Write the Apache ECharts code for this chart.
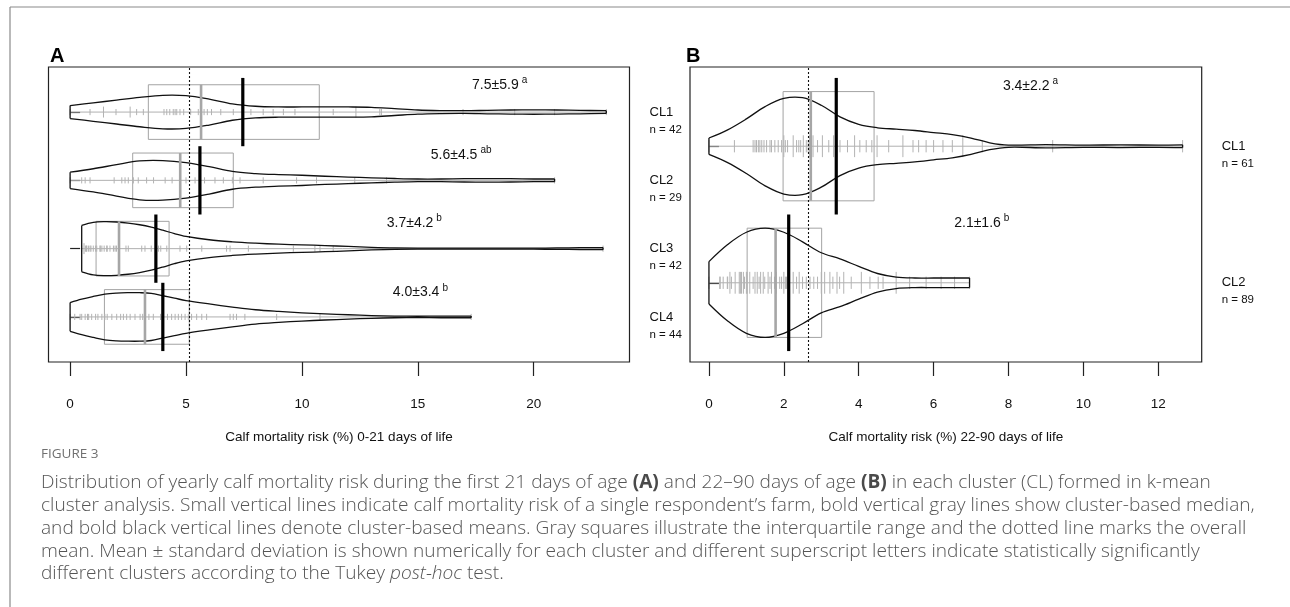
<!DOCTYPE html>
<html>
<head>
<meta charset="utf-8">
<script src="https://cdn.jsdelivr.net/npm/echarts@6/dist/echarts.min.js"></script>
<style>
html, body { margin: 0; padding: 0; background: #fff; }
#chart { width: 1290px; height: 607px; }
</style>
</head>
<body>
<div id="chart"></div>
<script>
// ---- panel A: 0-21 days of life ----
var aClusters = ['CL1', 'CL2', 'CL3', 'CL4'];
var aN = [42, 29, 42, 44];
var aRows = [4, 3, 2, 1];
var aQ1 = [3.375, 2.7, 1.12, 1.48];
var aMedian = [5.65, 4.75, 2.11, 3.23];
var aQ3 = [10.75, 7.04, 4.27, 5.14];
var aMean = [7.45, 5.6, 3.7, 4.0];
var aOverallMean = 5.13;
var aMeanText = ['7.5\u00b15.9', '5.6\u00b14.5', '3.7\u00b14.2', '4.0\u00b13.4'];
var aSup = ['a', 'ab', 'b', 'b'];
var aTicks = [0, 5, 10, 15, 20];

// bean outline: [risk, half width]
var aViolin1 = [[0, 0.095], [1, 0.135], [2, 0.175], [3, 0.215], [4, 0.245], [5, 0.24], [6, 0.19], [7, 0.12], [8, 0.085],
  [9, 0.075], [10, 0.075], [11, 0.075], [12, 0.075], [13, 0.07], [14, 0.05], [15, 0.03], [16, 0.022], [17, 0.02],
  [18, 0.025], [19, 0.03], [20, 0.032], [21, 0.03], [22, 0.025], [23.13, 0.02]];
var aViolin2 = [[0, 0.12], [1, 0.17], [2, 0.23], [3, 0.285], [4, 0.29], [5, 0.26], [6, 0.2], [7, 0.13], [8, 0.1],
  [9, 0.085], [10, 0.075], [11, 0.06], [12, 0.048], [13, 0.037], [14, 0.027], [15, 0.02], [16, 0.02], [17, 0.024],
  [18, 0.025], [19, 0.024], [20, 0.02], [20.9, 0.02]];
var aViolin3 = [[0.5, 0.34], [1, 0.385], [1.5, 0.395], [2, 0.39], [2.5, 0.375], [3, 0.35], [3.5, 0.315], [4, 0.27],
  [4.5, 0.22], [5, 0.18], [6, 0.13], [7, 0.1], [8, 0.08], [9, 0.065], [10, 0.055], [11, 0.045], [12, 0.032],
  [13, 0.018], [14, 0.01], [16, 0.008], [18, 0.008], [20, 0.008], [21, 0.01], [22, 0.014], [22.99, 0.015]];
var aViolin4 = [[0, 0.21], [0.5, 0.26], [1, 0.3], [1.5, 0.335], [2, 0.35], [2.5, 0.355], [3, 0.355], [3.5, 0.345],
  [4, 0.31], [4.5, 0.275], [5, 0.24], [6, 0.19], [7, 0.145], [8, 0.105], [9, 0.08], [10, 0.06], [11, 0.045],
  [12, 0.032], [13, 0.02], [14, 0.012], [15, 0.01], [16, 0.012], [17.3, 0.012]];

// single farms
var aFarms1 = [0, 0.86, 1.44, 1.44, 1.98, 2.59, 2.59, 2.87, 3.16, 4.45, 4.05, 4.17, 4.3, 4.53, 4.6, 4.74, 4.9, 5.2,
  5.53, 5.65, 5.78, 5.92, 6.1, 6.5, 7.04, 7.44, 7.8, 8.33, 8.76, 9.2, 9.7, 10.75, 11.35, 12.33, 13.36, 13.43, 12.33,
  16.95, 10.75, 19.18, 20.9, 23.13];
var aFarms2 = [0, 0.5, 0.65, 0.86, 1.9, 2.23, 2.37, 2.51, 2.73, 2.94, 3.3, 3.6, 4.1, 4.4, 4.74, 4.74, 5.0, 5.39, 5.8,
  6.25, 6.61, 7.0, 7.33, 8.33, 9.77, 10.63, 12.28, 13.65, 20.9];
var aFarms3 = [0.5, 0.6, 0.6, 0.66, 0.7, 0.72, 0.79, 0.86, 0.9, 1.0, 1.1, 1.15, 1.29, 1.3, 1.37, 1.47, 1.58, 1.6,
  1.72, 1.87, 1.94, 2.0, 2.11, 2.41, 2.51, 3.09, 3.23, 3.5, 3.81, 3.91, 4.17, 4.74, 5.03, 5.68, 6.75, 6.9, 7.69, 9.63,
  10.56, 10.78, 11.35, 22.99];
var aFarms4 = [0, 0.2, 0.43, 0.5, 0.65, 0.75, 0.8, 0.93, 1.1, 1.2, 1.37, 1.5, 1.6, 1.8, 2.01, 2.18, 2.3, 2.44, 2.59,
  2.8, 3.02, 3.13, 3.23, 3.4, 3.59, 3.9, 4.2, 4.38, 4.53, 4.67, 4.81, 4.96, 5.1, 5.24, 5.46, 5.68, 5.89, 6.9, 7.04,
  7.18, 7.54, 8.91, 10.78, 17.3];

// ---- panel B: 22-90 days of life ----
var bClusters = ['CL1', 'CL2'];
var bN = [61, 89];
var bRows = [2, 1];
var bQ1 = [1.98, 1.02];
var bMedian = [2.72, 1.78];
var bQ3 = [4.41, 3.01];
var bMean = [3.4, 2.13];
var bOverallMean = 2.65;
var bMeanText = ['3.4\u00b12.2', '2.1\u00b11.6'];
var bSup = ['a', 'b'];
var bTicks = [0, 2, 4, 6, 8, 10, 12];

var bViolin1 = [[0, 0.06], [0.5, 0.12], [1, 0.2], [1.5, 0.29], [2, 0.35], [2.5, 0.355], [3, 0.3], [3.5, 0.215],
  [4, 0.16], [4.5, 0.135], [5, 0.125], [5.5, 0.115], [6, 0.1], [6.5, 0.085], [7, 0.06], [7.5, 0.025], [8, 0.008],
  [9, 0.012], [10, 0.008], [11, 0.01], [12, 0.008], [12.65, 0.01]];
var bViolin2 = [[0, 0.155], [0.5, 0.28], [1, 0.37], [1.5, 0.4], [2, 0.37], [2.5, 0.3], [3, 0.22], [3.5, 0.175],
  [4, 0.12], [4.5, 0.068], [5, 0.042], [5.5, 0.035], [6, 0.035], [6.5, 0.035], [6.96, 0.035]];

var bFarms1 = [0, 0.68, 1.18, 1.23, 1.27, 1.32, 1.36, 1.41, 1.47, 1.54, 1.63, 1.67, 1.76, 1.85, 1.94,
  2.0, 2.0, 2.04, 2.1, 2.25, 2.25, 2.34, 2.4, 2.45, 2.52, 2.52, 2.6, 2.65, 2.69, 2.69,
  2.78, 2.78, 2.9, 3.03, 3.03, 3.2, 3.33, 3.33, 3.5, 3.7, 3.89, 3.89, 4.03, 4.2, 4.35,
  4.49, 4.49, 4.8, 5.18, 5.18, 5.45, 5.6, 5.8, 6.0, 6.25, 6.5, 6.78, 6.78, 7.3, 9.18, 12.65];
var bFarms2 = [0, 0.29, 0.3, 0.38, 0.49, 0.5, 0.56, 0.56, 0.6, 0.7, 0.7, 0.81, 0.81, 0.84, 0.84, 0.87, 0.87, 0.92,
  0.92, 0.95, 1.0, 1.0,
  1.02, 1.02, 1.09, 1.09, 1.18, 1.23, 1.23, 1.29, 1.29, 1.34, 1.38, 1.38, 1.45, 1.45, 1.49, 1.58, 1.58, 1.63, 1.67,
  1.67, 1.75, 1.78,
  1.8, 1.8, 1.89, 1.94, 2.0, 2.0, 2.04, 2.07, 2.12, 2.12, 2.25, 2.25, 2.34, 2.41, 2.41, 2.5, 2.6, 2.7, 2.8, 2.9, 3.0,
  3.0,
  3.09, 3.09, 3.23, 3.23, 3.31, 3.42, 3.42, 3.49, 3.6, 3.6, 3.8, 4.07, 4.07, 4.3, 4.52, 4.65, 5.0, 5.0, 5.36, 5.8,
  6.2, 6.56, 6.96];

// where the mean +- sd texts sit (data coords)
var aLabelAt = [[17.34, 4.397], [15.56, 3.372], [13.66, 2.372], [13.92, 1.356]];
var bLabelAt = [[7.85, 2.443], [6.55, 1.436]];

var FONT = '"Liberation Sans", Arial, sans-serif';

var panelA = {rows: aRows, q1: aQ1, median: aMedian, q3: aQ3, mean: aMean, meanText: aMeanText, sup: aSup,
  violins: [aViolin1, aViolin2, aViolin3, aViolin4], farms: [aFarms1, aFarms2, aFarms3, aFarms4], labelAt: aLabelAt};
var panelB = {rows: bRows, q1: bQ1, median: bMedian, q3: bQ3, mean: bMean, meanText: bMeanText, sup: bSup,
  violins: [bViolin1, bViolin2], farms: [bFarms1, bFarms2], labelAt: bLabelAt};

function farmData(p) {
  var out = [];
  p.farms.forEach(function (list, i) {
    var counts = {};
    list.forEach(function (v) { counts[v] = (counts[v] || 0) + 1; });
    Object.keys(counts).forEach(function (k) {
      out.push([parseFloat(k), p.rows[i], counts[k]]);
    });
  });
  return out;
}

function boxRender(p) {
  return function (params, api) {
    var i = params.dataIndex, row = p.rows[i];
    var a = api.coord([p.q1[i], row + 0.4]);
    var b = api.coord([p.q3[i], row - 0.4]);
    var f = p.farms[i];
    var lo = api.coord([Math.min.apply(null, f), row]);
    var hi = api.coord([Math.max.apply(null, f), row]);
    return {
      type: 'group',
      children: [
        {type: 'rect', shape: {x: a[0], y: a[1], width: b[0] - a[0], height: b[1] - a[1]},
          style: {fill: null, stroke: '#a3a3a3', lineWidth: 1}},
        {type: 'line', shape: {x1: lo[0], y1: lo[1], x2: hi[0], y2: hi[1]},
          style: {stroke: '#b0b0b0', lineWidth: 1}}
      ]
    };
  };
}

function farmRender(params, api) {
  var v = api.value(0), row = api.value(1), c = api.value(2);
  var h = Math.min(0.045 + 0.035 * (c - 1), 0.17);
  var a = api.coord([v, row + h]);
  var b = api.coord([v, row - h]);
  return {type: 'line', shape: {x1: a[0], y1: a[1], x2: b[0], y2: b[1]},
    style: {stroke: '#b3b3b3', lineWidth: 1}};
}

function beanRender(p) {
  return function (params, api) {
    var i = params.dataIndex, row = p.rows[i], v = p.violins[i];
    var top = [], bot = [];
    for (var k = 0; k < v.length; k++) {
      top.push(api.coord([v[k][0], row + v[k][1]]));
      bot.push(api.coord([v[k][0], row - v[k][1]]));
    }
    var n = v.length - 1;
    var black = {stroke: '#111', lineWidth: 1.3, fill: null};
    var m1 = api.coord([p.median[i], row + 0.4]), m2 = api.coord([p.median[i], row - 0.4]);
    var e1 = api.coord([p.mean[i], row + 0.5]), e2 = api.coord([p.mean[i], row - 0.5]);
    var lab = api.coord(p.labelAt[i]);
    return {
      type: 'group',
      children: [
        {type: 'polyline', shape: {points: top, smooth: 0.35}, style: black},
        {type: 'polyline', shape: {points: bot, smooth: 0.35}, style: black},
        {type: 'line', shape: {x1: top[0][0], y1: top[0][1], x2: bot[0][0], y2: bot[0][1]}, style: black},
        {type: 'line', shape: {x1: top[n][0], y1: top[n][1], x2: bot[n][0], y2: bot[n][1]}, style: black},
        {type: 'line', shape: {x1: m1[0], y1: m1[1], x2: m2[0], y2: m2[1]},
          style: {stroke: '#a6a6a6', lineWidth: 2.6}},
        {type: 'line', shape: {x1: e1[0], y1: e1[1], x2: e2[0], y2: e2[1]},
          style: {stroke: '#000', lineWidth: 3.2}},
        {type: 'text', x: lab[0], y: lab[1],
          style: {
            text: '{m|' + p.meanText[i] + '}{s|' + p.sup[i] + '}',
            align: 'left', verticalAlign: 'middle',
            rich: {
              m: {fontSize: 14, fontFamily: FONT, fill: '#111'},
              s: {fontSize: 10, fontFamily: FONT, fill: '#111', padding: [0, 0, 9, 3]}
            }
          }}
      ]
    };
  };
}

function xAxisFor(gi, min, max, ticks, name) {
  return {
    gridIndex: gi, type: 'value', min: min, max: max,
    axisLine: {show: false},
    splitLine: {show: false},
    axisTick: {show: true, length: 14, customValues: ticks, lineStyle: {color: '#222', width: 1.2}},
    axisLabel: {customValues: ticks, margin: 35, fontSize: 13.5, color: '#111', fontFamily: FONT},
    name: name, nameLocation: 'middle', nameGap: 68,
    nameTextStyle: {fontSize: 13.5, color: '#111', fontFamily: FONT}
  };
}

function yAxisFor(gi, min, max, rows, clusters, ns) {
  return {
    gridIndex: gi, type: 'value', position: 'right', min: min, max: max,
    axisLine: {show: false},
    splitLine: {show: false},
    axisTick: {show: true, length: 10, customValues: rows, lineStyle: {color: '#222', width: 1.2}},
    axisLabel: {
      customValues: rows, margin: 20, padding: [17.5, 0, 0, 0],
      formatter: function (v) {
        var i = rows.indexOf(Math.round(v));
        return '{c|' + clusters[i] + '}\n{n|n = ' + ns[i] + '}';
      },
      rich: {
        c: {fontSize: 13, lineHeight: 17.5, color: '#111', fontFamily: FONT},
        n: {fontSize: 11.5, lineHeight: 17.5, color: '#111', fontFamily: FONT}
      }
    }
  };
}

function panelSeries(p, gi, overall) {
  var idx = p.rows.map(function (r, i) { return [p.median[i], r, i]; });
  return [
    {type: 'custom', xAxisIndex: gi, yAxisIndex: gi, data: idx, renderItem: boxRender(p), z: 2,
      markLine: {silent: true, symbol: 'none', label: {show: false},
        lineStyle: {color: '#111', type: [2, 2], width: 1.1}, data: [{xAxis: overall}]}},
    {type: 'custom', xAxisIndex: gi, yAxisIndex: gi, data: farmData(p), renderItem: farmRender, z: 3},
    {type: 'custom', xAxisIndex: gi, yAxisIndex: gi, data: idx, renderItem: beanRender(p), z: 4}
  ];
}

var CAP = '"Open Sans", "Lato", sans-serif';
var CAP_SIZE = 19.1;
var capLines = [
  'Distribution of yearly calf mortality risk during the first 21 days of age {b|(A)} and 22\u201390 days of age {b|(B)} in each cluster (CL) formed in k-mean',
  'cluster analysis. Small vertical lines indicate calf mortality risk of a single respondent\u2019s farm, bold vertical gray lines show cluster-based median,',
  'and bold black vertical lines denote cluster-based means. Gray squares illustrate the interquartile range and the dotted line marks the overall',
  'mean. Mean \u00b1 standard deviation is shown numerically for each cluster and different superscript letters indicate statistically significantly',
  'different clusters according to the Tukey {i|post-hoc} test.'
];
var capGraphic = capLines.map(function (t, k) {
  return {
    type: 'text', left: 41, top: 482.5 + k * 22.9 - CAP_SIZE / 2,
    style: {
      text: t, fontSize: CAP_SIZE, fontFamily: CAP, fontWeight: 300, fill: '#555555',
      rich: {
        b: {fontSize: CAP_SIZE, fontFamily: CAP, fontWeight: 'bold', fill: '#4a4a4a'},
        i: {fontSize: CAP_SIZE, fontFamily: CAP, fontWeight: 300, fontStyle: 'italic', fill: '#555555'}
      }
    }
  };
});

var myChart = echarts.init(document.getElementById('chart'));

var option = {
  animation: false,
  backgroundColor: '#fff',
  grid: [
    {left: 48.5, top: 67, width: 581, height: 295, show: true, borderColor: '#222', borderWidth: 1.2},
    {left: 690, top: 67, width: 511.7, height: 295, show: true, borderColor: '#222', borderWidth: 1.2}
  ],
  xAxis: [
    xAxisFor(0, -0.932, 24.132, aTicks, 'Calf mortality risk (%) 0-21 days of life'),
    xAxisFor(1, -0.506, 13.16, bTicks, 'Calf mortality risk (%) 22-90 days of life')
  ],
  yAxis: [
    yAxisFor(0, 0.34, 4.66, aRows, aClusters, aN),
    yAxisFor(1, 0.42, 2.58, bRows, bClusters, bN)
  ],
  series: panelSeries(panelA, 0, aOverallMean).concat(panelSeries(panelB, 1, bOverallMean)),
  graphic: [
    {type: 'line', shape: {x1: 10, y1: 7, x2: 1290, y2: 7}, style: {stroke: '#8a8a8a', lineWidth: 1.2}},
    {type: 'line', shape: {x1: 10, y1: 7, x2: 10, y2: 607}, style: {stroke: '#8a8a8a', lineWidth: 1.2}},
    {type: 'text', left: 50, top: 46, style: {text: 'A', fontSize: 20, fontWeight: 'bold', fontFamily: FONT, fill: '#000'}},
    {type: 'text', left: 686, top: 46, style: {text: 'B', fontSize: 20, fontWeight: 'bold', fontFamily: FONT, fill: '#000'}},
    {type: 'text', left: 41, top: 447, style: {text: 'FIGURE 3', fontSize: 13.5, fontFamily: CAP, fill: '#707070'}}
  ].concat(capGraphic)
};

myChart.setOption(option);
window.addEventListener('resize', function () { myChart.resize(); });
</script>
</body>
</html>
